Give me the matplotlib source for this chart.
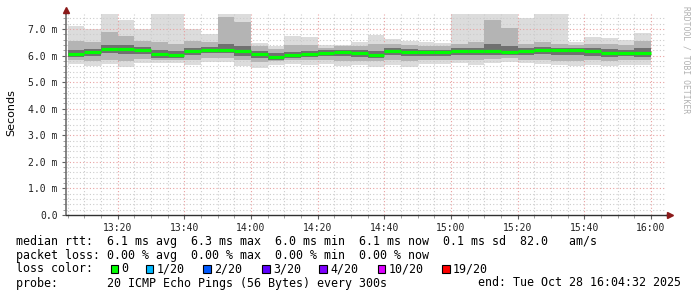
import matplotlib
matplotlib.use("Agg")
import matplotlib.pyplot as plt
from matplotlib.patches import Rectangle
import numpy as np

# 5-minute bins, minutes after 13:00 (13:05 ... 15:55)
bin_start = np.arange(5, 180, 5)

# round trip times in ms per bin
rtt_max = [7.11, 7.00, 7.80, 7.34, 6.99, 7.80, 7.80, 6.99, 6.81, 7.80, 7.80, 6.49,
           6.36, 6.75, 6.71, 6.40, 6.40, 6.52, 6.79, 6.61, 6.56, 6.50, 6.46, 7.80,
           7.80, 7.80, 7.80, 7.40, 7.80, 7.80, 6.53, 6.71, 6.67, 6.59, 6.86]
rtt_p90 = [6.55, 6.50, 6.90, 6.75, 6.55, 6.50, 6.45, 6.55, 6.50, 7.45, 7.25, 6.35,
           6.25, 6.40, 6.40, 6.30, 6.35, 6.35, 6.45, 6.45, 6.40, 6.35, 6.35, 6.45,
           6.50, 7.35, 7.05, 6.45, 6.50, 6.45, 6.40, 6.45, 6.45, 6.40, 6.55]
rtt_p75 = [6.22, 6.25, 6.38, 6.40, 6.32, 6.20, 6.18, 6.28, 6.32, 6.45, 6.35, 6.18,
           6.08, 6.15, 6.18, 6.20, 6.22, 6.22, 6.18, 6.28, 6.24, 6.22, 6.22, 6.30,
           6.30, 6.45, 6.35, 6.28, 6.32, 6.30, 6.30, 6.28, 6.24, 6.22, 6.28]
rtt_med = [6.07, 6.12, 6.24, 6.25, 6.21, 6.05, 6.03, 6.16, 6.22, 6.22, 6.18, 6.06,
           5.96, 6.01, 6.07, 6.10, 6.13, 6.10, 6.02, 6.18, 6.13, 6.12, 6.13, 6.18,
           6.17, 6.17, 6.15, 6.18, 6.22, 6.21, 6.21, 6.17, 6.11, 6.11, 6.11]
rtt_p25 = [5.95, 5.98, 6.08, 6.05, 6.05, 5.92, 5.90, 6.02, 6.08, 6.08, 6.00, 5.90,
           5.85, 5.90, 5.95, 5.98, 6.00, 5.96, 5.90, 6.02, 5.98, 5.98, 6.00, 6.02,
           6.02, 6.03, 6.02, 6.02, 6.05, 6.03, 6.03, 6.00, 5.96, 5.97, 5.96]
rtt_p10 = [5.85, 5.80, 5.85, 5.78, 5.88, 5.85, 5.85, 5.82, 5.92, 5.92, 5.82, 5.75,
           5.78, 5.82, 5.82, 5.82, 5.80, 5.80, 5.78, 5.82, 5.78, 5.85, 5.85, 5.85,
           5.82, 5.88, 5.92, 5.85, 5.82, 5.80, 5.78, 5.82, 5.80, 5.82, 5.82]
rtt_min = [5.68, 5.62, 5.68, 5.58, 5.71, 5.73, 5.71, 5.63, 5.77, 5.77, 5.62, 5.54,
           5.64, 5.67, 5.64, 5.67, 5.61, 5.64, 5.58, 5.64, 5.58, 5.68, 5.67, 5.71,
           5.64, 5.71, 5.76, 5.71, 5.67, 5.64, 5.61, 5.63, 5.61, 5.64, 5.64]

x_ticks = [20, 40, 60, 80, 100, 120, 140, 160, 180]
x_labels = ["13:20", "13:40", "14:00", "14:20", "14:40", "15:00", "15:20", "15:40", "16:00"]
y_ticks = [0, 1, 2, 3, 4, 5, 6, 7]

loss_labels = ["0", "1/20", "2/20", "3/20", "4/20", "10/20", "19/20"]
loss_colors = ["#00ff00", "#00b8ff", "#0059ff", "#5e00ff", "#7e00ff", "#dd00ff", "#ff0000"]

W, H = 697, 297
MONO = "DejaVu Sans Mono"

fig = plt.figure(figsize=(W / 100, H / 100), dpi=100)
ax = fig.add_axes([66 / W, 82 / H, 600 / W, 200.6 / H])

# smoke: light outer range, then darker inner ranges
bands = [(rtt_min, rtt_max, "#dcdcdc", 1),
         (rtt_p10, rtt_p90, "#b4b4b4", 3),
         (rtt_p25, rtt_p75, "#707070", 3)]
for lo, hi, col, z in bands:
    lo = np.array(lo)
    hi = np.array(hi)
    ax.bar(bin_start, hi - lo, bottom=lo, width=5, align="edge", color=col,
           linewidth=0, zorder=z)

ax.hlines(rtt_med, bin_start, bin_start + 5, color="#00ff00", lw=2.3, zorder=4)

ax.set_xlim(4.533, 184.533)
ax.set_ylim(0, 7.55)

# grid (over the light smoke, under the dense part)
for m in np.arange(5, 185, 5):
    if m % 20 == 0:
        continue
    ax.axvline(m, color="#cccccc", lw=0.8, ls=(0, (1, 2)), zorder=2)
for v in np.arange(0.2, 7.6, 0.2):
    if abs(v - round(v)) < 1e-6:
        continue
    ax.axhline(v, color="#cccccc", lw=0.8, ls=(0, (1, 2)), zorder=2)
for m in x_ticks:
    ax.axvline(m, color="#e8a0a0", lw=0.8, ls=(0, (1, 2)), zorder=2)
for v in y_ticks[1:]:
    ax.axhline(v, color="#e8a0a0", lw=0.8, ls=(0, (1, 2)), zorder=2)

for s in ["top", "right"]:
    ax.spines[s].set_visible(False)
ax.spines["left"].set_color("#707070")
ax.spines["bottom"].set_color("#303030")
ax.spines["left"].set_linewidth(1.2)
ax.spines["bottom"].set_linewidth(1.0)
ax.spines["left"].set_zorder(6)
ax.spines["bottom"].set_zorder(6)

ax.set_xticks(x_ticks)
ax.set_xticklabels(x_labels, fontfamily=MONO, fontsize=7, color="#202020")
ax.set_xticks(np.arange(5, 185, 5), minor=True)
ax.set_yticks(y_ticks)
ax.set_yticklabels(["0.0"] + ["%.1f m" % v for v in y_ticks[1:]],
                   fontfamily=MONO, fontsize=7, color="#202020")
ax.set_yticks(np.arange(0, 7.6, 0.2), minor=True)
ax.tick_params(axis="both", which="major", length=3, width=0.8, color="#606060", pad=3)
ax.tick_params(axis="both", which="minor", length=2, width=0.6, color="#909090")

# axis extensions and arrows
ax.plot([4.533, 4.533], [7.55, 7.7], color="#707070", lw=1.2, clip_on=False, zorder=6)
ax.plot([184.533, 185.3], [0, 0], color="#303030", lw=1.0, clip_on=False, zorder=6)
ax.plot([4.533], [7.72], marker="^", color="#8b1a1a", ms=4, clip_on=False, zorder=7)
ax.plot([185.6], [0], marker=">", color="#8b1a1a", ms=4, clip_on=False, zorder=7)

fig.text(11 / W, 1 - 113 / H, "Seconds", rotation=90, ha="center", va="center",
         fontsize=8)
fig.text(686 / W, 1 - 60 / H, "RRDTOOL / TOBI OETIKER", rotation=270, ha="center",
         va="center", fontsize=5.8, color="#b0b0b0", fontfamily=MONO)


def px(x, y):
    return x / W, 1 - y / H


lines = [
    "median rtt:  6.1 ms avg  6.3 ms max  6.0 ms min  6.1 ms now  0.1 ms sd  82.0   am/s",
    "packet loss: 0.00 % avg  0.00 % max  0.00 % min  0.00 % now",
]
for i, txt in enumerate(lines):
    fig.text(*px(16, 241 + 14 * i), txt, fontfamily=MONO, fontsize=8.4, va="center")

fig.text(*px(16, 269), "loss color:", fontfamily=MONO, fontsize=8.4, va="center")
sq_x = [110.7, 145.7, 203, 262, 319, 377.7, 442]
for lbl, col, sx in zip(loss_labels, loss_colors, sq_x):
    fig.patches.append(Rectangle(px(sx, 273), 7.5 / W, 8 / H, transform=fig.transFigure,
                                 facecolor=col, edgecolor="black", lw=0.8))
    fig.text(*px(sx + 11, 269), lbl, fontfamily=MONO, fontsize=8.4, va="center")

fig.text(*px(16, 283), "probe:       20 ICMP Echo Pings (56 Bytes) every 300s",
         fontfamily=MONO, fontsize=8.4, va="center")
fig.text(*px(478, 283), "end: Tue Oct 28 16:04:32 2025", fontfamily=MONO,
         fontsize=8.4, va="center")

fig.savefig("out.png", dpi=100)
